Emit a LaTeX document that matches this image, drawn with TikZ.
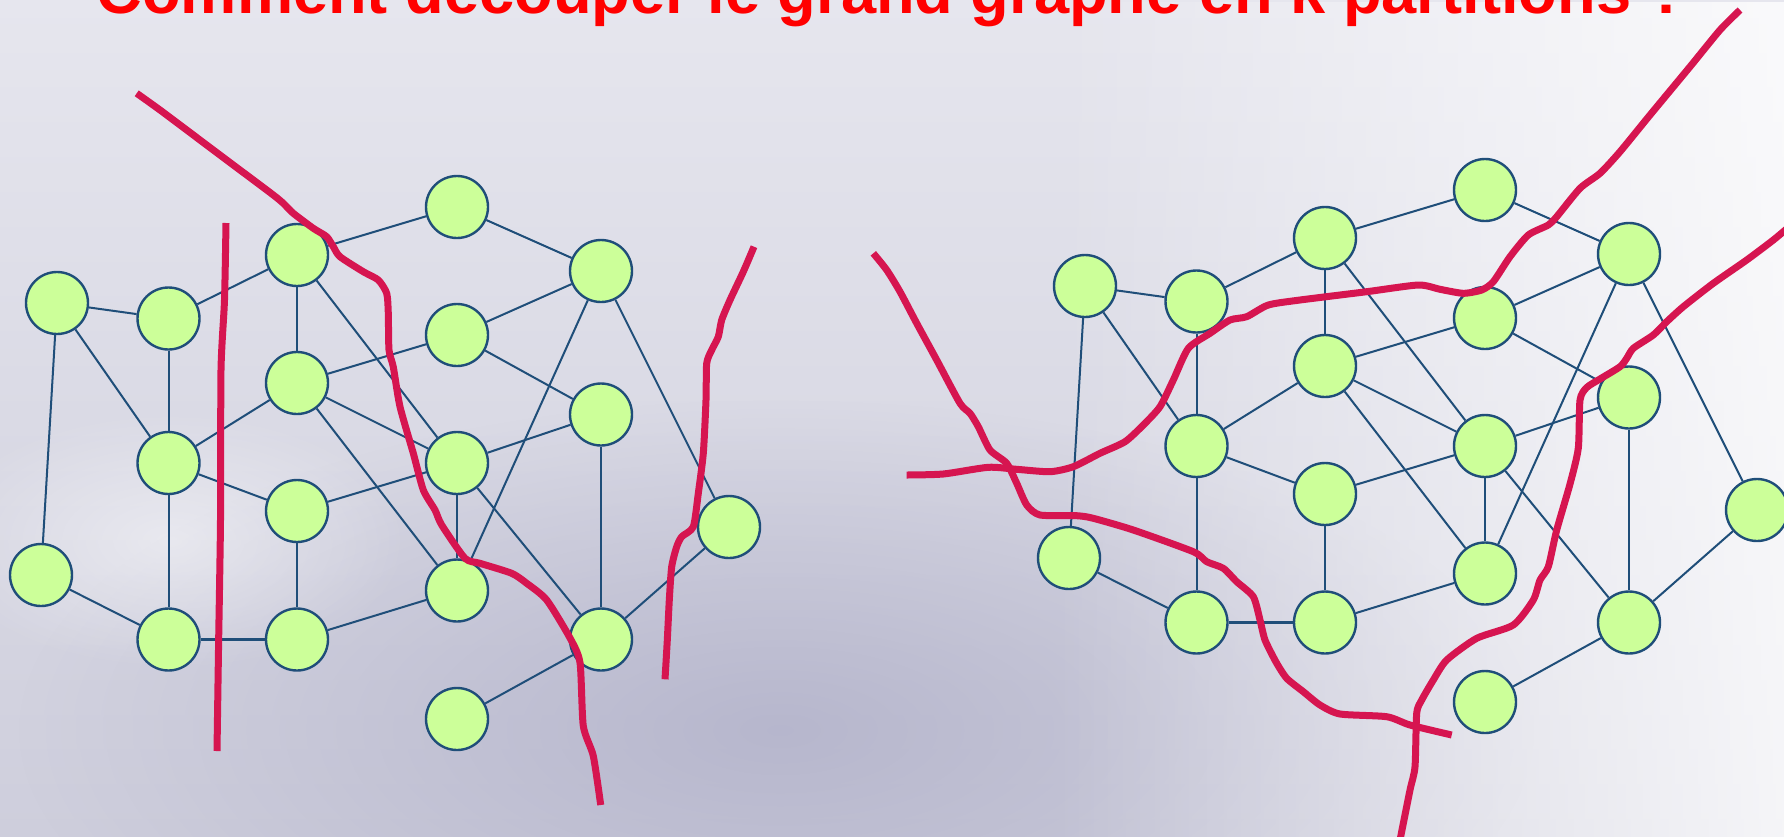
\documentclass[tikz,border=0pt]{standalone}
\usepackage{fontspec}
\setmainfont{Liberation Sans}
\usepackage{tikz}
\usetikzlibrary{fadings}

\definecolor{nodefill}{RGB}{204,255,153}
\definecolor{nodeline}{RGB}{31,78,121}
\definecolor{cutred}{RGB}{214,21,80}
\definecolor{bgtop}{RGB}{230,230,238}
\definecolor{bgbot}{RGB}{206,206,220}
\definecolor{bgdark}{RGB}{178,178,202}
\definecolor{titlered}{RGB}{255,0,0}

\tikzfading[name=softblob, inner color=transparent!0, outer color=transparent!100]
\tikzfading[name=fromright, left color=transparent!100, right color=transparent!0]

\tikzset{
  vertex/.style={circle, draw=nodeline, fill=nodefill, line width=2.4pt, minimum size=62pt, inner sep=0pt},
  link/.style={draw=nodeline, line width=2pt},
  cut/.style={draw=cutred, line width=7pt, line join=round},
}

\begin{document}
\begin{tikzpicture}[x=1pt, y=-1pt]
  \path[use as bounding box, clip] (0,0) rectangle (1784,836);
  \shade[top color=bgtop, bottom color=bgbot] (0,0) rectangle (1784,836);
  \fill[bgdark, path fading=softblob, opacity=0.85] (780,730) ellipse [x radius=760, y radius=330];
  \fill[white, path fading=fromright, opacity=0.8] (1050,0) rectangle (1784,836);
  \fill[white, path fading=softblob, opacity=0.45] (170,540) ellipse [x radius=240, y radius=130];

  \node[anchor=base, inner sep=0pt, text=titlered, font=\bfseries\fontsize{63.2}{70}\selectfont] (titre) at (892,13.5) {Comment découper le grand graphe en k partitions ?};

  \foreach \side/\dx/\dy in {g/0/0, d/1028/-17} {
    \begin{scope}[shift={(\dx,\dy)}, name prefix=\side-]
      \node[vertex] (A) at (57,303) {};
      \node[vertex] (B) at (168.5,318.5) {};
      \node[vertex] (C) at (297,255) {};
      \node[vertex] (D) at (457,207) {};
      \node[vertex] (E) at (601,271) {};
      \node[vertex] (F) at (457,335) {};
      \node[vertex] (G) at (297,383) {};
      \node[vertex] (H) at (601,414.5) {};
      \node[vertex] (I) at (168.5,463) {};
      \node[vertex] (J) at (457,463) {};
      \node[vertex] (K) at (297,511) {};
      \node[vertex] (L) at (729,527) {};
      \node[vertex] (M) at (41,575) {};
      \node[vertex] (N) at (457,590.5) {};
      \node[vertex] (O) at (168.5,639.5) {};
      \node[vertex] (P) at (297,639.5) {};
      \node[vertex] (Q) at (601,639.5) {};
      \node[vertex] (R) at (457,719) {};
      \foreach \u/\v in {A/B, A/M, A/I, B/C, B/I, C/D, C/G, C/J, D/E, E/F, E/L, E/N,
                         F/G, F/H, G/I, G/J, G/N, H/J, H/Q, I/K, I/O, J/K, J/N, J/Q,
                         K/P, L/Q, M/O, N/P, Q/R}
        \draw[link] (\u) -- (\v);
      \draw[link, line width=3pt] (O) -- (P);
    \end{scope}
  }

  \draw[cut] plot[smooth, tension=0.4] coordinates {(226,223) (224.5,300) (221,370) (220.5,520) (218.5,650) (217,751)};
  \draw[cut] plot[smooth, tension=0.4] coordinates {(136.7,93.3) (160,110) (200,140) (240,170) (273.3,195) (283.3,203.3) (293.3,213.3) (313.3,228.3) (326.7,236.7) (333.3,246.7) (340,256.7) (363.3,271.7) (378.3,280) (386.7,293.3) (388.3,313.3) (389,350) (393.3,367) (400,406.7) (413.3,453.3) (423.3,490) (435,510) (441.7,525) (465,558.3) (480,563.3) (511.7,573.3) (526.7,583.3) (546.7,600) (570,638) (580,662.7) (583.3,726) (593.3,756) (600.7,805)};
  \draw[cut] plot[smooth, tension=0.4] coordinates {(754,246.7) (743.3,271.7) (730,300) (721.7,320) (718.3,336.7) (711.7,350) (706.7,363.3) (706,400) (703.3,453.3) (698.3,493.3) (693.3,526.7) (681.7,536.7) (676.7,546.7) (671.7,566.7) (669.3,600) (667.3,640) (665,679.3)};

  \draw[cut] plot[smooth, tension=0.4] coordinates {(873.3,253.3) (886.7,270) (900,291.7) (916.7,323.3) (936.7,360) (960,403.3) (970,413.3) (978.3,426.7) (990,450) (1006.7,463.3) (1016.7,483.3) (1026.7,505) (1040,515) (1076.7,515.7) (1093.3,518.3) (1133.3,530) (1193.3,551.7) (1206.7,561.7) (1223.3,568.3) (1236.7,581.7) (1253.3,596.7) (1260,620) (1265,640) (1276,662) (1286.7,678.3) (1303.3,691.7) (1320,705) (1340,714) (1386.7,716.7) (1410,725) (1451.7,735)};
  \draw[cut] plot[smooth, tension=0.4] coordinates {(906.7,475) (943.3,474) (988.3,467.3) (1016.7,469.3) (1050,471.7) (1073.3,466.7) (1100,453.3) (1125,441.7) (1143.3,425) (1160,406.7) (1173.3,380) (1188.3,348.3) (1210,333.3) (1230,320) (1246.7,316.7) (1268.3,305) (1300,300) (1366.7,291.7) (1418.3,285) (1440,289.3) (1463.3,293.3) (1481.7,290) (1493.3,281.7) (1510,256.7) (1528.3,235) (1548.3,225) (1556.7,216.7) (1580,188.3) (1600,173.3) (1620,151.7) (1650,115) (1690,66.7) (1720,30) (1740,10)};
  \draw[cut] plot[smooth, tension=0.4] coordinates {(1790,226) (1773.3,240) (1746.7,260) (1713.3,283.3) (1683.3,306.7) (1666.7,321.7) (1653.3,335) (1633.3,348.3) (1626.7,358.3) (1620,366.7) (1600,379) (1586.7,387.5) (1580,400) (1578.3,448) (1570,484) (1556.7,530) (1548.3,566.7) (1540,580) (1533.3,600) (1513.3,625) (1476.7,638.3) (1446.7,660) (1433.3,680) (1421.7,700) (1416.7,713.3) (1415,766.7) (1410,790) (1400,840)};
\end{tikzpicture}
\end{document}
